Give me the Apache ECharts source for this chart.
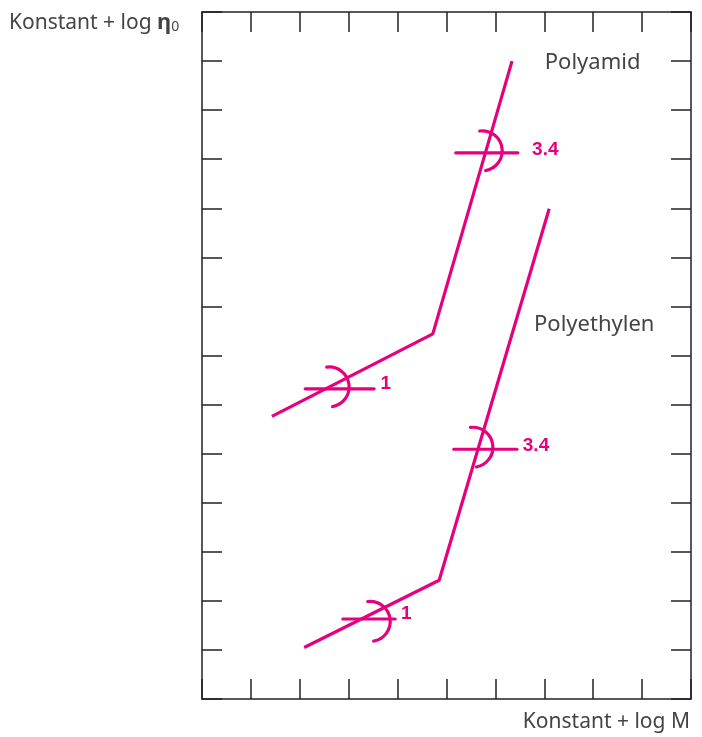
<!DOCTYPE html>
<html>
<head>
<meta charset="utf-8">
<script src="https://cdn.jsdelivr.net/npm/echarts@6/dist/echarts.min.js"></script>
<style>html,body{margin:0;padding:0;background:#fff;}#c{width:702px;height:737px;}</style>
</head>
<body>
<div id="c"></div>
<script>
// Data (axis units: x 0..10, y 0..14)
const polyamid = [[1.43, 5.76], [4.72, 7.44], [6.34, 13.0]];
const polyethylen = [[2.09, 1.05], [4.85, 2.42], [7.10, 9.99]];
// slope markers: arc centre x, arc centre y, bar x start, bar x end, bar y
const markers = [
  [2.60, 6.36, 2.11, 3.52, 6.32],
  [5.73, 11.17, 5.19, 6.46, 11.13],
  [5.54, 5.13, 5.15, 6.44, 5.09],
  [3.44, 1.58, 2.88, 3.95, 1.63]
];
const slopeLabels = ['1', '3.4', '3.4', '1'];
const slopeLabelPos = [[3.65, 6.42], [6.75, 11.19], [6.56, 5.17], [4.07, 1.73]];
const seriesNames = ['Polyamid', 'Polyethylen'];
const seriesNamePos = [[7.01, 12.96], [6.79, 7.62]];

const MAG = '#E6007E';
const AX = '#222';
const TXT = '#444';
const chart = echarts.init(document.getElementById('c'));

const axisCommon = {
  min: 0, interval: 1,
  axisLine: { show: true, onZero: false, lineStyle: { color: AX, width: 1.5 } },
  axisTick: { show: true, inside: true, length: 20, lineStyle: { color: AX, width: 1.5 } },
  axisLabel: { show: false },
  splitLine: { show: false }
};

chart.setOption({
  animation: false,
  grid: { left: 202, right: 11, top: 12, bottom: 38 },
  xAxis: [
    Object.assign({ type: 'value', max: 10, position: 'bottom' }, axisCommon),
    Object.assign({ type: 'value', max: 10, position: 'top' }, axisCommon)
  ],
  yAxis: [
    Object.assign({ type: 'value', max: 14, position: 'left' }, axisCommon),
    Object.assign({ type: 'value', max: 14, position: 'right' }, axisCommon)
  ],
  graphic: [
    {
      type: 'text', left: 9, top: 12,
      style: {
        text: '{a|Konstant + log }{e|η}{s|0}',
        rich: {
          a: { fontFamily: 'Noto Sans', fontSize: 21, fill: TXT },
          e: { fontFamily: 'Noto Sans', fontSize: 22, fontWeight: 'bold', fill: TXT },
          s: { fontFamily: 'Noto Sans', fontSize: 14, fill: TXT, padding: [8, 0, 0, 0] }
        }
      }
    },
    {
      type: 'text', right: 12, top: 712,
      style: { text: 'Konstant + log M', fontFamily: 'Noto Sans', fontSize: 21, fill: TXT }
    }
  ],
  series: [
    {
      type: 'line', data: polyamid, symbol: 'none',
      lineStyle: { color: MAG, width: 3.2 }, z: 3
    },
    {
      type: 'line', data: polyethylen, symbol: 'none',
      lineStyle: { color: MAG, width: 3.2 }, z: 3
    },
    {
      type: 'custom', data: markers, z: 4,
      renderItem: function (params, api) {
        const c = api.coord([api.value(0), api.value(1)]);
        const a = api.coord([api.value(2), api.value(4)]);
        const b = api.coord([api.value(3), api.value(4)]);
        return {
          type: 'group', children: [
            { type: 'line', shape: { x1: a[0], y1: a[1], x2: b[0], y2: b[1] },
              style: { stroke: MAG, lineWidth: 3.2, lineCap: 'round' } },
            { type: 'arc', shape: { cx: c[0], cy: c[1], r: 20, startAngle: -97 * Math.PI / 180, endAngle: 80 * Math.PI / 180, clockwise: true },
              style: { stroke: MAG, lineWidth: 3.2, fill: null, lineCap: 'round' } }
          ]
        };
      }
    },
    {
      type: 'custom', data: slopeLabelPos.map((p, i) => [p[0], p[1], slopeLabels[i]]), z: 5,
      renderItem: function (params, api) {
        const p = api.coord([api.value(0), api.value(1)]);
        return { type: 'text', x: p[0], y: p[1],
          style: { text: slopeLabels[params.dataIndex], fontFamily: 'Liberation Sans', fontWeight: 'bold', fontSize: 19, fill: MAG, verticalAlign: 'middle', align: 'left' } };
      }
    },
    {
      type: 'custom', data: seriesNamePos.map((p, i) => [p[0], p[1], seriesNames[i]]), z: 5,
      renderItem: function (params, api) {
        const p = api.coord([api.value(0), api.value(1)]);
        return { type: 'text', x: p[0], y: p[1],
          style: { text: seriesNames[params.dataIndex], fontFamily: 'Noto Sans', fontSize: 22, fill: TXT, verticalAlign: 'middle', align: 'left' } };
      }
    }
  ]
});
</script>
</body>
</html>
